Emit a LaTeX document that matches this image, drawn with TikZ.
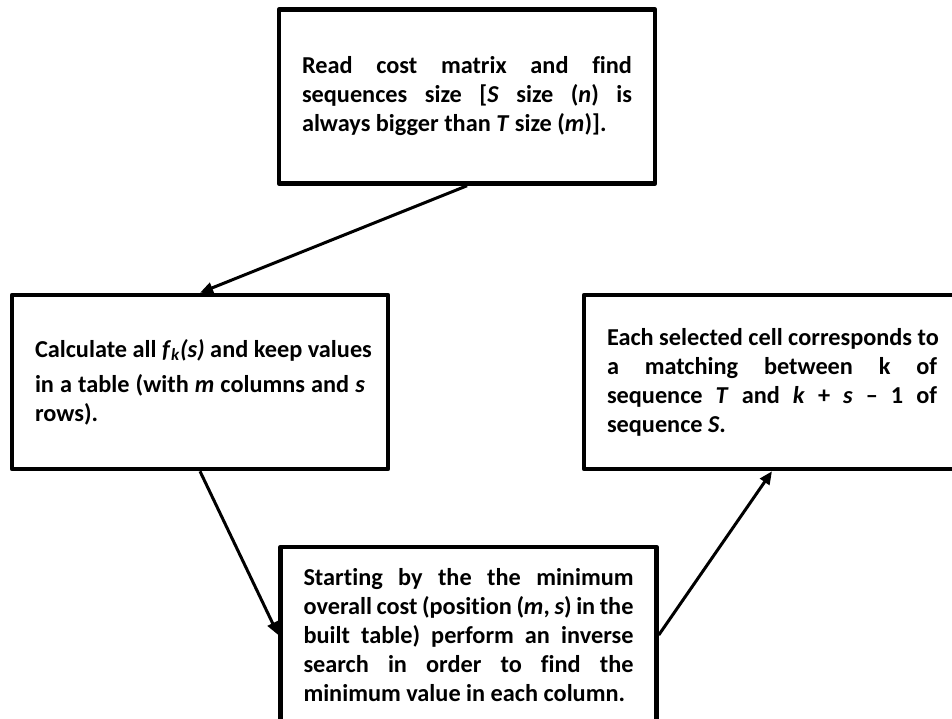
\documentclass[tikz,border=0pt]{standalone}
\usepackage{fontspec}
\setmainfont{Carlito}[Ligatures=NoCommon]
\usetikzlibrary{arrows.meta}
\newcommand{\jline}[1]{\makebox[330pt][s]{#1}}
\newcommand{\lline}[1]{\makebox[330pt][l]{#1}}
\begin{document}
\begin{tikzpicture}[x=1pt,y=-1pt,
  box/.style={draw, line width=4.5pt, line join=round, fill=white,
    minimum width=376pt, minimum height=174pt, inner sep=0pt, align=left,
    font=\bfseries\fontsize{24.3}{29}\selectfont},
  conn/.style={line width=3pt, -{Triangle[length=13pt,width=11pt]}}]
\useasboundingbox (0,0) rectangle (952,718);
\clip (0,0) rectangle (952,718);
\node[box] (read) at (467,96.5) {%
  \jline{Read cost matrix and find}\\
  \jline{sequences size [\textit{S} size (\textit{n}) is}\\
  \lline{always bigger than \textit{T} size (\textit{m})].}};
\node[box] (calc) at (200,382) {%
  \lline{Calculate all \textit{f}\textsubscript{\textit{k}}\textit{(s)} and keep values}\\[6pt]
  \jline{in a table (with \textit{m} columns and \textit{s}}\\
  \lline{rows).}};
\node[box, minimum height=176pt] (start) at (468.5,635) {%
  \jline{Starting by the the minimum}\\
  \jline{overall cost (position (\textit{m}, \textit{s}) in the}\\
  \jline{built table) perform an inverse}\\
  \jline{search in order to find the}\\
  \lline{minimum value in each column.}};
\node[box] (each) at (772,382) {%
  \lline{Each selected cell corresponds to}\\
  \jline{a matching between k of}\\
  \jline{sequence \textit{T} and \textit{k} + \textit{s} – 1 of}\\
  \lline{sequence \textit{S}.}};
\draw[conn] (read.south) -- (calc.north);
\draw[conn] (calc.south) -- (start.west);
\draw[conn] (start.east) -- (each.south);
\end{tikzpicture}
\end{document}
